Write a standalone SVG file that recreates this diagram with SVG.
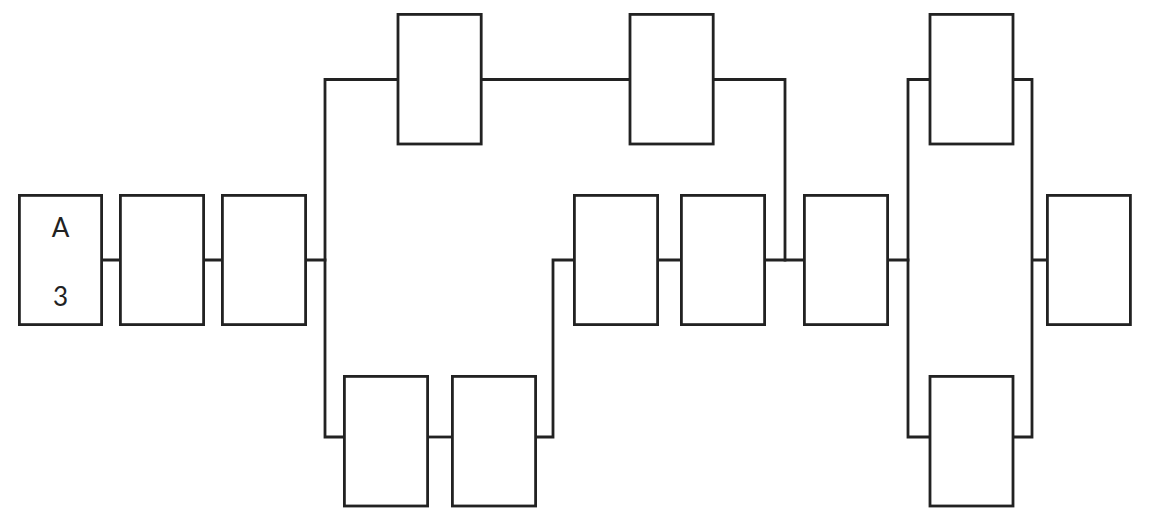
<svg xmlns="http://www.w3.org/2000/svg" width="1150" height="523" viewBox="0 0 1150 523">
<style>
.n{fill:#fff;stroke:#222;stroke-width:2.8}
.c{fill:none;stroke:#222;stroke-width:2.8;stroke-linecap:square;stroke-linejoin:miter}
.t{font-family:Lato,"Open Sans","Liberation Sans",sans-serif;font-size:26px;fill:#222;text-anchor:middle}
</style>
<rect width="1150" height="523" fill="#fff"/>
<g id="connectors">
<path class="c" d="M102 260H119M204 260H221M306 260H325"/>
<path class="c" d="M397 79.5H325V437H343"/>
<path class="c" d="M482 79.5H629"/>
<path class="c" d="M714 79.5H785V260"/>
<path class="c" d="M428 437H451"/>
<path class="c" d="M536 437H553V260H573"/>
<path class="c" d="M658 260H680M766 260H803M888 260H908"/>
<path class="c" d="M929 79.5H908V437H929"/>
<path class="c" d="M1014 79.5H1032V437H1014M1032 260H1046"/>
</g>
<g id="n1"><rect class="n" x="19.4" y="195.4" width="82.2" height="129.2"/><text class="t" x="60.5" y="237">A</text><text class="t" x="60.5" y="306">3</text></g>
<g id="n2"><rect class="n" x="120.4" y="195.4" width="83.2" height="129.2"/></g>
<g id="n3"><rect class="n" x="222.4" y="195.4" width="83.2" height="129.2"/></g>
<g id="n4"><rect class="n" x="398" y="14.4" width="83.2" height="129.6"/></g>
<g id="n5"><rect class="n" x="630" y="14.4" width="83.2" height="129.6"/></g>
<g id="n6"><rect class="n" x="344.4" y="376.4" width="83.2" height="129.6"/></g>
<g id="n7"><rect class="n" x="452.4" y="376.4" width="83.2" height="129.6"/></g>
<g id="n8"><rect class="n" x="574.4" y="195.4" width="83.2" height="129.2"/></g>
<g id="n9"><rect class="n" x="681.4" y="195.4" width="83.2" height="129.2"/></g>
<g id="n10"><rect class="n" x="804.4" y="195.4" width="83.2" height="129.2"/></g>
<g id="n11"><rect class="n" x="930" y="14.4" width="83" height="129.6"/></g>
<g id="n12"><rect class="n" x="930" y="376.4" width="83" height="129.6"/></g>
<g id="n13"><rect class="n" x="1047.4" y="195.4" width="83" height="129.2"/></g>
</svg>
